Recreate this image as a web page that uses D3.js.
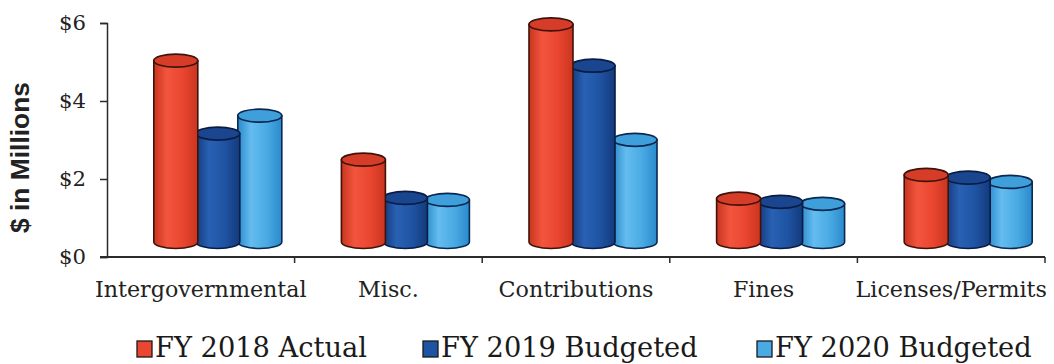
<!DOCTYPE html>
<html>
<head>
<meta charset="utf-8">
<script src="https://cdn.jsdelivr.net/npm/d3@7"></script>
<style>
  html, body { margin: 0; padding: 0; background: #ffffff; }
  svg { display: block; }
</style>
</head>
<body>
<script>
// Revenue by source, $ in millions
const categories = ["Intergovernmental", "Misc.", "Contributions", "Fines", "Licenses/Permits"];
const seriesNames = ["FY 2018 Actual", "FY 2019 Budgeted", "FY 2020 Budgeted"];
const fy2018Actual = [4.65, 2.11, 5.58, 1.11, 1.72];
const fy2019Budgeted = [2.78, 1.13, 4.52, 1.03, 1.65];
const fy2020Budgeted = [3.24, 1.08, 2.62, 0.98, 1.54];
const yTickValues = [0, 2, 4, 6];
const yTickLabels = ["$0", "$2", "$4", "$6"];
const yTitle = "$ in Millions";

const seriesValues = [fy2018Actual, fy2019Budgeted, fy2020Budgeted];

const W = 1054, H = 364;
const serif = "'DejaVu Serif', 'Liberation Serif', serif";
const sans = "'Liberation Sans', 'DejaVu Sans', sans-serif";

const svg = d3.select("body").append("svg")
  .attr("width", W).attr("height", H)
  .attr("viewBox", `0 0 ${W} ${H}`);

// pick a font size so that a sample string spans the wanted width
function fitSize(sample, width, family, weight) {
  const t = svg.append("text").attr("font-family", family)
    .attr("font-weight", weight || "normal").attr("font-size", 100).text(sample);
  const w = t.node().getComputedTextLength();
  t.remove();
  return 100 * width / w;
}

const plot = { left: 107, right: 1045, top: 23, bottom: 257 };
const depth = { dx: 17, dy: -15 };

const x = d3.scaleBand().domain(categories).range([plot.left, plot.right]);
const y = d3.scaleLinear().domain([0, 6]).range([plot.bottom, plot.top]);
const xs = d3.scaleBand().domain(seriesNames).range([0, 126]);

const palette = {
  "FY 2018 Actual":   { edge: "#c9351f", mid: "#ea4630", hi: "#f2553d", top: "#d63d29", line: "#3f130c" },
  "FY 2019 Budgeted": { edge: "#143a7c", mid: "#1f54a3", hi: "#2961b3", top: "#1a4690", line: "#0a1c44" },
  "FY 2020 Budgeted": { edge: "#2b8acb", mid: "#4aabe4", hi: "#64bcef", top: "#3f9fdb", line: "#0c2850" }
};

// horizontal shading for the cylinder bodies
const defs = svg.append("defs");
seriesNames.forEach((s, i) => {
  const p = palette[s];
  const g = defs.append("linearGradient").attr("id", "body" + i)
    .attr("x1", "0%").attr("x2", "100%").attr("y1", "0%").attr("y2", "0%");
  g.append("stop").attr("offset", "0%").attr("stop-color", p.edge);
  g.append("stop").attr("offset", "30%").attr("stop-color", p.hi);
  g.append("stop").attr("offset", "65%").attr("stop-color", p.mid);
  g.append("stop").attr("offset", "100%").attr("stop-color", p.edge);
});

// Y axis
const yAxis = d3.axisLeft(y).tickValues(yTickValues)
  .tickFormat((d, i) => yTickLabels[i]).tickSize(7).tickPadding(14);
const tickFont = fitSize("$6", 27, serif);
const gy = svg.append("g").attr("transform", `translate(${plot.left},0)`).call(yAxis);
gy.select(".domain").attr("stroke", "#2b2b2b").attr("stroke-width", 1.5);
gy.selectAll(".tick line").attr("stroke", "#2b2b2b").attr("stroke-width", 1.5);
gy.selectAll(".tick text").attr("font-family", serif).attr("font-size", tickFont)
  .attr("fill", "#222");

// X axis with category labels centred in each band
const catFont = fitSize("Contributions", 155, serif);
const xAxis = d3.axisBottom(x).tickSize(0).tickPadding(24);
const gx = svg.append("g").attr("transform", `translate(0,${plot.bottom})`).call(xAxis);
gx.select(".domain").attr("stroke", "#2b2b2b").attr("stroke-width", 1.8)
  .attr("d", `M${plot.left - 7},0H${plot.right}`);
gx.selectAll(".tick text").attr("font-family", serif).attr("font-size", catFont)
  .attr("fill", "#222");
// boundary ticks between categories
gx.selectAll(".sep").data(categories).enter().append("line")
  .attr("class", "sep")
  .attr("x1", d => x(d) + x.bandwidth()).attr("x2", d => x(d) + x.bandwidth())
  .attr("y1", 0).attr("y2", 6)
  .attr("stroke", "#2b2b2b").attr("stroke-width", 1.5);

// Y axis title
const titleFont = fitSize(yTitle, 151, sans, "bold");
svg.append("text")
  .attr("transform", `translate(29,${(82 + 233) / 2}) rotate(-90)`)
  .attr("text-anchor", "middle")
  .attr("font-family", sans).attr("font-weight", "bold").attr("font-size", titleFont)
  .attr("fill", "#222").text(yTitle);

// cylinders
const rx = 22, ry = 6.5;
const cyl = [];
categories.forEach((c, ci) => {
  seriesNames.forEach((s, si) => {
    cyl.push({ c, s, si, v: seriesValues[si][ci] });
  });
});
// draw right-most series first so left neighbours sit in front
cyl.sort((a, b) => b.si - a.si);

const gc = svg.append("g");
cyl.forEach(d => {
  const cx = x(d.c) + x.bandwidth() / 2 + depth.dx - 63 + xs(d.s) + xs.bandwidth() / 2;
  const yb = y(0) + depth.dy;
  const yt = y(d.v) + depth.dy;
  const p = palette[d.s];
  const g = gc.append("g");
  // body with rounded base
  g.append("path")
    .attr("d", `M${cx - rx},${yt} V${yb} A${rx},${ry} 0 0 0 ${cx + rx},${yb} V${yt} Z`)
    .attr("fill", `url(#body${d.si})`)
    .attr("stroke", p.line).attr("stroke-width", 1.6).attr("stroke-linejoin", "round");
  // top face
  g.append("ellipse")
    .attr("cx", cx).attr("cy", yt).attr("rx", rx).attr("ry", ry)
    .attr("fill", p.top).attr("stroke", p.line).attr("stroke-width", 1.7);
});

// legend
const legFont = fitSize("FY 2018 Actual", 212, serif);
const legX = [137, 423, 757];
const leg = svg.append("g");
seriesNames.forEach((s, i) => {
  const p = palette[s];
  leg.append("rect")
    .attr("x", legX[i]).attr("y", 341).attr("width", 15).attr("height", 16)
    .attr("fill", p.mid).attr("stroke", "#1a1a1a").attr("stroke-width", 1.3);
  leg.append("text")
    .attr("x", legX[i] + 18).attr("y", 357)
    .attr("font-family", serif).attr("font-size", legFont).attr("fill", "#1a1a1a")
    .text(s);
});
</script>
</body>
</html>
